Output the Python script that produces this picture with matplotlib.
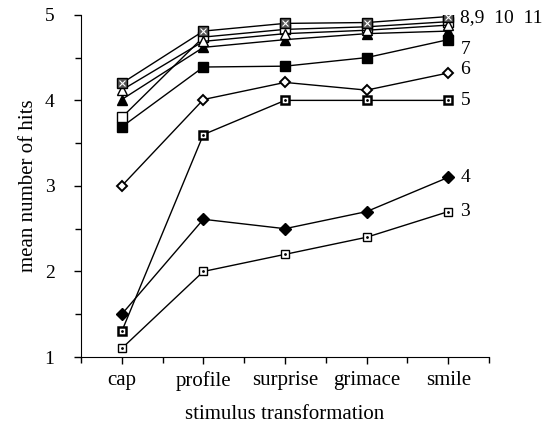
import numpy as np
import matplotlib.pyplot as plt
from matplotlib.ticker import MultipleLocator

plt.rcParams['font.family'] = ['Liberation Serif', 'DejaVu Serif']

categories = ['cap', 'profile', 'surprise', 'grimace', 'smile']

# mean hits per series
s3 = [1.1, 2.0, 2.2, 2.4, 2.7]
s4 = [1.5, 2.61, 2.5, 2.7, 3.1]
s5 = [1.3, 3.6, 4.0, 4.0, 4.0]
s6 = [3.0, 4.01, 4.21, 4.12, 4.32]
s7 = [3.69, 4.39, 4.4, 4.5, 4.71]
s8 = [4.2, 4.81, 4.9, 4.91, 4.98]
s9 = [4.12, 4.69, 4.78, 4.82, 4.88]
s10 = [3.8, 4.74, 4.83, 4.86, 4.92]
s11 = [4.01, 4.62, 4.71, 4.78, 4.81]

right_labels = ['8,9  10  11', '7', '6', '5', '4', '3']
label_y = [4.97, 4.6, 4.36, 4.0, 3.1, 2.7]

fig = plt.figure(figsize=(5.47, 4.24), dpi=100)
ax = fig.add_axes([0.148, 0.158, 0.746, 0.807])
x = np.arange(len(categories))

lw = 1.0
# open square with dot
ax.plot(x, s3, color='k', lw=lw, marker='s', ms=6, mfc='white', mec='k', mew=1.0)
ax.plot(x, s3, ls='none', marker='.', ms=2, color='k')
# filled diamond
ax.plot(x, s4, color='k', lw=lw, marker='D', ms=6, mfc='k', mec='k')
# bold square with dot
ax.plot(x, s5, color='k', lw=lw, marker='s', ms=6, mfc='white', mec='k', mew=1.8)
ax.plot(x, s5, ls='none', marker='.', ms=2, color='k')
# open diamond
ax.plot(x, s6, color='k', lw=lw, marker='D', ms=5.5, mfc='white', mec='k', mew=1.4)
# filled square
ax.plot(x, s7, color='k', lw=lw, marker='s', ms=6.5, mfc='k', mec='k')
# filled triangle
ax.plot(x, s11, color='k', lw=lw, marker='^', ms=7, mfc='k', mec='k')
# open square
ax.plot(x, s10, color='k', lw=lw, marker='s', ms=6.5, mfc='white', mec='k', mew=1.0)
# open triangle
ax.plot(x, s9, color='k', lw=lw, marker='^', ms=7, mfc='white', mec='k', mew=1.0)
# hatched square
ax.plot(x, s8, color='k', lw=lw, marker='s', ms=6.5, mfc='#555555', mec='k', mew=1.0)
ax.plot(x, s8, ls='none', marker='x', ms=4, color='white', mew=0.8)

for lab, yv in zip(right_labels, label_y):
    ax.text(4.15, yv, lab, fontsize=14, va='center', ha='left')

ax.set_xlim(-0.5, 4.5)
ax.set_ylim(1, 5)
ax.set_xticks(x)
ax.set_xticklabels(categories, fontsize=15)
ax.xaxis.set_minor_locator(MultipleLocator(0.5))
ax.set_yticks([1, 2, 3, 4, 5])
ax.yaxis.set_minor_locator(MultipleLocator(0.5))
ax.tick_params(axis='y', labelsize=14, length=5, width=1, direction='out', pad=14)
ax.tick_params(axis='x', length=5, width=1, direction='out', pad=5)
ax.tick_params(which='minor', length=4, width=1)
for sp in ['top', 'right']:
    ax.spines[sp].set_visible(False)

ax.set_xlabel('stimulus transformation', fontsize=15, labelpad=10)
ax.set_ylabel('mean number of hits', fontsize=15, labelpad=5)

fig.savefig('out.png', dpi=100)
